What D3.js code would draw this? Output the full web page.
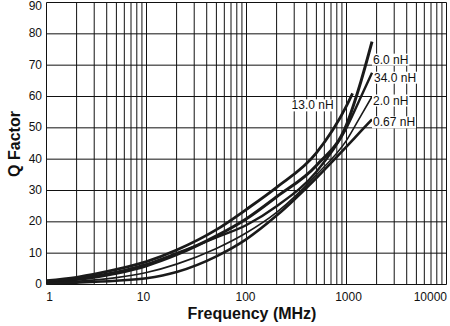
<!DOCTYPE html>
<html><head><meta charset="utf-8">
<script src="https://cdn.jsdelivr.net/npm/d3@7"></script>
<style>body{margin:0;background:#fff}svg{display:block}text{font-family:"Liberation Sans",Arial,sans-serif}</style>
</head><body>
<svg id="c" width="450" height="326"></svg>
<script>
// ---- data ----
const freq   = [1, 2, 5, 10, 20, 50, 100, 200, 500, 1000, 1400, 1800];
const q6_0   = [0.8, 1.6, 3.6, 6.0, 9.5, 15.5, 21, 28, 38, 51, 65, 77.5];
const q34_0  = [1.0, 1.9, 4.0, 6.5, 10, 15, 19, 25, 36, 50, 60, 67.6];
const q2_0   = [0.5, 1.0, 2.2, 3.8, 6.5, 11.5, 16.5, 23, 35, 46, 54, 60];
const q0_67  = [0.3, 0.6, 1.2, 2.0, 4.0, 9.0, 14.5, 22, 34, 44, 49, 52.7];
const freq13 = [1, 2, 5, 10, 20, 50, 100, 200, 500, 1000, 1150];
const q13_0  = [1.2, 2.3, 4.8, 7.3, 11, 17.5, 24, 31, 42, 57, 61];
const seriesNames = ["6.0 nH", "34.0 nH", "2.0 nH", "0.67 nH", "13.0 nH"];
const xTicks = [1, 10, 100, 1000, 10000];
const yTicks = [0, 10, 20, 30, 40, 50, 60, 70, 80, 90];

// ---- layout ----
const svg = d3.select("#c");
const L = 46.5, R = 446.5, T = 2.5, B = 284.5;
const x = d3.scaleLog().domain([1, 10000]).range([L, R]);
const y = d3.scaleLinear().domain([0, 90]).range([B, T]);

// grid
const minor = [];
for (let d = 1; d < 10000; d *= 10) for (let k = 1; k <= 9; k++) minor.push(d * k);
minor.push(10000);
const g = svg.append("g");
g.selectAll("line.v").data(minor).join("line")
  .attr("x1", d => x(d)).attr("x2", d => x(d)).attr("y1", T).attr("y2", B)
  .attr("stroke", "#111").attr("stroke-width", 1);
g.selectAll("line.h").data(yTicks).join("line")
  .attr("x1", L).attr("x2", R).attr("y1", d => y(d)).attr("y2", d => y(d))
  .attr("stroke", "#111").attr("stroke-width", 1);

// axes labels
svg.append("g").selectAll("text").data(yTicks).join("text")
  .attr("x", 42).attr("y", d => d === 90 ? 10 : y(d) + 3.5)
  .attr("text-anchor", "end").attr("font-size", 12).attr("fill", "#111").text(d => d);
const xShift = {1: 3, 10: -3, 100: -1, 1000: 2};
svg.append("g").selectAll("text").data(xTicks).join("text")
  .attr("x", d => d === 10000 ? 447 : x(d) + xShift[d])
  .attr("y", 300.5)
  .attr("text-anchor", d => d === 10000 ? "end" : "middle")
  .attr("font-size", 12).attr("fill", "#111").text(d => d);

svg.append("text").attr("x", 252).attr("y", 319).attr("text-anchor", "middle")
  .attr("font-size", 16).attr("font-weight", "bold").attr("fill", "#111").text("Frequency (MHz)");
svg.append("text").attr("transform", "translate(20,144) rotate(-90)").attr("text-anchor", "middle")
  .attr("font-size", 16).attr("font-weight", "bold").attr("fill", "#111").text("Q Factor");

// curves
const series = [
  {name: seriesNames[0], f: freq,   q: q6_0,  w: 3.0, lab: {dx: 1,   dy: 22, anchor: "start"}},
  {name: seriesNames[1], f: freq,   q: q34_0, w: 2.4, lab: {dx: 2,   dy: 9,  anchor: "start"}},
  {name: seriesNames[2], f: freq,   q: q2_0,  w: 1.6, lab: {dx: 1,   dy: 8,  anchor: "start"}},
  {name: seriesNames[3], f: freq,   q: q0_67, w: 2.6, lab: {dx: 1,   dy: 7,  anchor: "start"}},
  {name: seriesNames[4], f: freq13, q: q13_0, w: 2.8, lab: {dx: -19, dy: 16, anchor: "end"}}
];
const line = d3.line().curve(d3.curveMonotoneX);
const cg = svg.append("g");
series.forEach(s => {
  const pts = s.f.map((f, i) => [x(f), y(s.q[i])]);
  cg.append("path").attr("d", line(pts)).attr("fill", "none")
    .attr("stroke", "#1a1a1a").attr("stroke-width", s.w).attr("stroke-linecap", "butt");
});
const lg = svg.append("g");
series.forEach(s => {
  const n = s.f.length - 1;
  const px = x(s.f[n]) + s.lab.dx, py = y(s.q[n]) + s.lab.dy;
  const grp = lg.append("g");
  const t = grp.append("text").attr("x", px).attr("y", py).attr("text-anchor", s.lab.anchor)
    .attr("font-size", 12).attr("fill", "#111").text(s.name);
  const bb = t.node().getBBox();
  grp.insert("rect", "text").attr("x", bb.x - 1).attr("y", bb.y + 1).attr("width", bb.width + 2)
    .attr("height", bb.height - 2).attr("fill", "#fff");
});
</script>
</body></html>
